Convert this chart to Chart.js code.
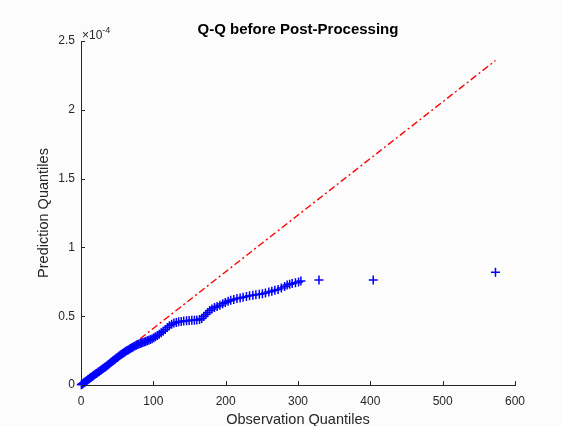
<!DOCTYPE html>
<html>
<head>
<meta charset="utf-8">
<script src="https://cdn.jsdelivr.net/npm/chart.js@4.4.1/dist/chart.umd.min.js"></script>
<style>
  html, body { margin: 0; padding: 0; background: #fcfcfc; }
  #wrap { width: 561px; height: 426px; }
</style>
</head>
<body>
<div id="wrap"><canvas id="qq" width="561" height="426"></canvas></div>
<script>
// Sorted observation quantiles (x) and prediction quantiles (y, in units of 1e-4)
const obsQuantiles = [
  0.5, 1.2, 2.0, 3.1, 4.0, 5.2, 6.0, 7.3, 8.1, 9.4,
  10.5, 11.8, 13.0, 14.2, 15.5, 16.9, 18.0, 19.6, 21.0, 22.3,
  23.9, 25.2, 26.8, 28.1, 29.7, 31.0, 32.6, 34.0, 35.5, 37.1,
  38.4, 40.0, 41.3, 42.9, 44.2, 45.8, 47.0, 48.6, 50.1, 51.5,
  53.0, 54.6, 56.0, 57.5, 59.1, 60.6, 62.0, 63.7, 65.2, 66.8,
  68.3, 70.0, 71.6, 73.1, 74.9, 76.5, 78.2, 80.0, 81.9, 83.7,
  85.6, 87.4, 89.5, 91.6, 93.8, 96.0, 98.3, 100.7, 103.0, 105.6,
  108.1, 110.9, 113.6, 116.5, 119.4, 122.2, 125.3, 128.5, 131.8, 135.0,
  138.6, 142.0, 145.9, 149.5, 153.2, 156.8, 160.1, 163.9, 167.0, 169.8,
  172.6, 175.1, 177.9, 181.0, 184.5, 188.2, 192.0, 195.9, 199.5, 203.4,
  207.0, 211.2, 215.6, 220.0, 224.1, 228.7, 233.0, 237.6, 241.8, 246.5,
  250.8, 255.0, 259.7, 263.8, 268.0, 272.5, 277.0, 281.5, 285.0, 288.5,
  292.0, 296.5, 300.8, 304.0, 329.0, 404.0, 573.0
];
const predQuantiles = [
  0.002, 0.005, 0.008, 0.012, 0.016, 0.020, 0.024, 0.029, 0.033, 0.038,
  0.042, 0.047, 0.052, 0.057, 0.062, 0.067, 0.072, 0.078, 0.083, 0.088,
  0.094, 0.099, 0.105, 0.111, 0.117, 0.122, 0.127, 0.132, 0.138, 0.145,
  0.151, 0.158, 0.164, 0.170, 0.176, 0.182, 0.188, 0.194, 0.200, 0.206,
  0.212, 0.218, 0.223, 0.229, 0.235, 0.240, 0.245, 0.250, 0.255, 0.260,
  0.265, 0.270, 0.275, 0.280, 0.285, 0.289, 0.294, 0.298, 0.302, 0.305,
  0.309, 0.313, 0.317, 0.321, 0.325, 0.330, 0.336, 0.343, 0.351, 0.359,
  0.368, 0.379, 0.391, 0.404, 0.418, 0.431, 0.442, 0.450, 0.455, 0.459,
  0.462, 0.465, 0.467, 0.469, 0.470, 0.471, 0.473, 0.476, 0.484, 0.497,
  0.512, 0.527, 0.541, 0.553, 0.563, 0.571, 0.580, 0.590, 0.600, 0.609,
  0.616, 0.622, 0.628, 0.633, 0.638, 0.643, 0.648, 0.652, 0.655, 0.659,
  0.663, 0.668, 0.675, 0.682, 0.688, 0.694, 0.705, 0.716, 0.726, 0.733,
  0.738, 0.743, 0.748, 0.755, 0.763, 0.763, 0.819
];

// Reference line endpoints
const refLineX = [0, 573];
const refLineY = [0, 2.358];

// Axis ticks
const xTicks = [0, 100, 200, 300, 400, 500, 600];
const yTicks = [0, 0.5, 1, 1.5, 2, 2.5];

const titleText = 'Q-Q before Post-Processing';
const xLabel = 'Observation Quantiles';
const yLabel = 'Prediction Quantiles';

const FONT = '"Liberation Sans", Arial, Helvetica, sans-serif';
const AXIS_COLOR = '#262626';

const qqPoints = obsQuantiles.map((x, i) => ({ x: x, y: predQuantiles[i] }));
const refPoints = refLineX.map((x, i) => ({ x: x, y: refLineY[i] }));

// Background, inward tick marks, title and exponent label
const decorations = {
  id: 'decorations',
  beforeDraw(chart) {
    const ctx = chart.ctx;
    ctx.save();
    ctx.fillStyle = '#fcfcfc';
    ctx.fillRect(0, 0, chart.width, chart.height);
    ctx.restore();
  },
  afterDraw(chart) {
    const ctx = chart.ctx;
    const xs = chart.scales.x, ys = chart.scales.y;
    const area = chart.chartArea;
    ctx.save();
    ctx.strokeStyle = AXIS_COLOR;
    ctx.lineWidth = 1;
    ctx.beginPath();
    xTicks.forEach(v => {
      const px = Math.round(xs.getPixelForValue(v)) + 0.5;
      ctx.moveTo(px, area.bottom);
      ctx.lineTo(px, area.bottom - 4);
    });
    yTicks.forEach(v => {
      const py = Math.round(ys.getPixelForValue(v)) + 0.5;
      ctx.moveTo(area.left, py);
      ctx.lineTo(area.left + 4, py);
    });
    ctx.stroke();

    // title
    ctx.fillStyle = '#000';
    ctx.font = 'bold 15px ' + FONT;
    ctx.textAlign = 'center';
    ctx.textBaseline = 'middle';
    ctx.fillText(titleText, (area.left + area.right) / 2, 30);

    // axis exponent
    ctx.fillStyle = AXIS_COLOR;
    ctx.textAlign = 'left';
    ctx.textBaseline = 'alphabetic';
    ctx.font = '12px ' + FONT;
    const base = '\u00d710';
    ctx.fillText(base, area.left + 1, 39);
    const w = ctx.measureText(base).width;
    ctx.font = '9px ' + FONT;
    ctx.fillText('-4', area.left + 1 + w, 33);
    ctx.restore();
  }
};

new Chart(document.getElementById('qq'), {
  type: 'scatter',
  data: {
    datasets: [
      {
        type: 'scatter',
        data: qqPoints,
        pointStyle: 'cross',
        pointRadius: 4.5,
        pointBorderWidth: 1.5,
        borderColor: '#0000ff',
        backgroundColor: '#0000ff',
        clip: false
      },
      {
        type: 'line',
        data: refPoints,
        borderColor: '#ff0000',
        borderWidth: 1.4,
        borderDash: [7, 3, 2, 3],
        pointRadius: 0,
        fill: false,
        clip: false
      }
    ]
  },
  options: {
    responsive: false,
    animation: false,
    devicePixelRatio: 1,
    events: [],
    layout: { padding: { top: 41, right: 46, left: 0, bottom: 0 } },
    plugins: {
      legend: { display: false },
      tooltip: { enabled: false },
      title: { display: false }
    },
    scales: {
      x: {
        type: 'linear',
        position: 'bottom',
        min: 0,
        max: 600,
        afterFit(s) { s.height = 41; },
        afterBuildTicks(s) { s.ticks = xTicks.map(v => ({ value: v })); },
        grid: { display: true, drawOnChartArea: false, drawTicks: false },
        border: { display: true, color: AXIS_COLOR, width: 1 },
        ticks: {
          padding: 9,
          color: AXIS_COLOR,
          font: { family: FONT, size: 12 },
          maxRotation: 0
        },
        title: {
          display: true,
          text: xLabel,
          color: AXIS_COLOR,
          font: { family: FONT, size: 14.5 },
          padding: { top: 0, bottom: -3 }
        }
      },
      y: {
        type: 'linear',
        position: 'left',
        min: 0,
        max: 2.5,
        afterFit(s) { s.width = 81; },
        afterBuildTicks(s) { s.ticks = yTicks.map(v => ({ value: v })); },
        grid: { display: true, drawOnChartArea: false, drawTicks: false },
        border: { display: true, color: AXIS_COLOR, width: 1 },
        ticks: {
          padding: 6,
          color: AXIS_COLOR,
          font: { family: FONT, size: 12 },
          callback: v => String(v)
        },
        title: {
          display: true,
          text: yLabel,
          color: AXIS_COLOR,
          font: { family: FONT, size: 14.5 },
          padding: { top: 35, bottom: 0 }
        }
      }
    }
  },
  plugins: [decorations]
});
</script>
</body>
</html>
